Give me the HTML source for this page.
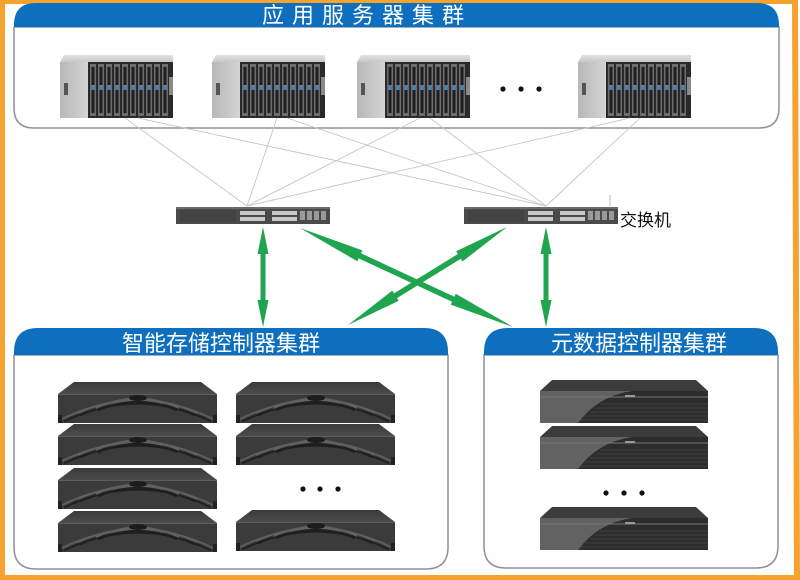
<!DOCTYPE html>
<html>
<head>
<meta charset="utf-8">
<style>
  html,body{margin:0;padding:0;background:#fff;}
  svg{display:block;}
  .t{font-family:"Liberation Sans","Noto Sans CJK SC",sans-serif;}
</style>
</head>
<body>
<svg width="800" height="580" viewBox="0 0 800 580" xmlns="http://www.w3.org/2000/svg">
  <defs>
    <linearGradient id="topg" x1="0" y1="0" x2="0" y2="1">
      <stop offset="0" stop-color="#e2e2e2"/>
      <stop offset="1" stop-color="#c8c8c8"/>
    </linearGradient>
    <linearGradient id="sideg" x1="0" y1="0" x2="1" y2="0">
      <stop offset="0" stop-color="#b8b8b8"/>
      <stop offset="1" stop-color="#d4d4d4"/>
    </linearGradient>
    <linearGradient id="stTop" x1="0" y1="0" x2="0" y2="1">
      <stop offset="0" stop-color="#3a3a3a"/>
      <stop offset="1" stop-color="#4c4c4c"/>
    </linearGradient>
    <g id="srv">
      <polygon points="4,0 113,0 113,7 0,7" fill="url(#topg)"/>
      <rect x="0" y="7" width="28" height="56" fill="url(#sideg)"/>
      <rect x="4" y="28" width="4" height="12" fill="#555"/>
      <rect x="28" y="7" width="85" height="56" fill="#2a2a2a"/>
      <g fill="#6d6d6d">
        <rect x="30" y="9" width="6" height="52"/><rect x="38" y="9" width="6" height="52"/>
        <rect x="46" y="9" width="6" height="52"/><rect x="54" y="9" width="6" height="52"/>
        <rect x="62" y="9" width="6" height="52"/><rect x="70" y="9" width="6" height="52"/>
        <rect x="78" y="9" width="6" height="52"/><rect x="86" y="9" width="6" height="52"/>
        <rect x="94" y="9" width="6" height="52"/><rect x="102" y="9" width="6" height="52"/>
      </g>
      <g fill="#1e1e1e">
        <rect x="31.5" y="12" width="3" height="46"/><rect x="39.5" y="12" width="3" height="46"/>
        <rect x="47.5" y="12" width="3" height="46"/><rect x="55.5" y="12" width="3" height="46"/>
        <rect x="63.5" y="12" width="3" height="46"/><rect x="71.5" y="12" width="3" height="46"/>
        <rect x="79.5" y="12" width="3" height="46"/><rect x="87.5" y="12" width="3" height="46"/>
        <rect x="95.5" y="12" width="3" height="46"/><rect x="103.5" y="12" width="3" height="46"/>
      </g>
      <g fill="#4d7fc0">
        <rect x="31.5" y="30" width="3" height="5"/><rect x="39.5" y="30" width="3" height="5"/>
        <rect x="47.5" y="30" width="3" height="5"/><rect x="55.5" y="30" width="3" height="5"/>
        <rect x="63.5" y="30" width="3" height="5"/><rect x="71.5" y="30" width="3" height="5"/>
        <rect x="79.5" y="30" width="3" height="5"/><rect x="87.5" y="30" width="3" height="5"/>
        <rect x="95.5" y="30" width="3" height="5"/><rect x="103.5" y="30" width="3" height="5"/>
      </g>
      <rect x="109" y="22" width="4" height="18" fill="#8a8a8a"/>
    </g>
    <g id="stor">
      <polygon points="16,0 143,0 159,12 0,12" fill="url(#stTop)"/>
      <rect x="0" y="12" width="159" height="29" fill="#3b3b3b"/>
      <line x1="0" y1="12.5" x2="159" y2="12.5" stroke="#5c5c5c" stroke-width="1"/>
      <g fill="none" stroke-width="1.8">
        <path d="M4,37 Q80,0 155,37" stroke="#606060"/>
        <path d="M6,39.5 Q80,4 153,39.5" stroke="#1f1f1f"/>
        <path d="M20,31 Q80,4 139,31" stroke="#606060"/>
        <path d="M22,33.5 Q80,8 137,33.5" stroke="#1f1f1f"/>
        <path d="M38,26 Q80,7 121,26" stroke="#606060"/>
        <path d="M40,28.5 Q80,11 119,28.5" stroke="#1f1f1f"/>
        <path d="M55,21 Q80,11 104,21" stroke="#606060"/>
      </g>
      <ellipse cx="80" cy="16" rx="9" ry="3" fill="#1c1c1c"/>
      <rect x="0" y="33" width="4" height="8" fill="#222"/>
      <rect x="155" y="33" width="4" height="8" fill="#222"/>
    </g>
    <g id="meta">
      <polygon points="12,0 156,0 168,11 0,11" fill="#3c3c3c"/>
      <rect x="0" y="11" width="168" height="32" fill="#2d2d2d"/>
      <g stroke="#404040" stroke-width="1">
        <line x1="60" y1="24" x2="168" y2="24"/><line x1="55" y1="28" x2="168" y2="28"/>
        <line x1="50" y1="32" x2="168" y2="32"/><line x1="45" y1="36" x2="168" y2="36"/>
        <line x1="40" y1="40" x2="168" y2="40"/>
      </g>
      <path d="M0,11 L92,11 Q58,16 38,43 L0,43 Z" fill="#626262"/>
      <line x1="0" y1="17" x2="168" y2="17" stroke="#777" stroke-width="1"/>
      <rect x="85" y="15" width="10" height="2" fill="#999"/>
    </g>
    <g id="sw">
      <rect x="0" y="0" width="154" height="17" fill="#4a4a4a"/>
      <rect x="0" y="0" width="154" height="2" fill="#6a6a6a"/>
      <rect x="4" y="3" width="56" height="12" fill="#444"/>
      <g fill="#c8c8c8">
        <rect x="64" y="4" width="25" height="4"/><rect x="64" y="10" width="25" height="4"/>
        <rect x="96" y="4" width="25" height="4"/><rect x="96" y="10" width="25" height="4"/>
      </g>
      <g fill="#9a9a9a">
        <rect x="124" y="4" width="5" height="9"/><rect x="131" y="4" width="5" height="9"/>
        <rect x="138" y="4" width="5" height="9"/><rect x="145" y="4" width="5" height="9"/>
      </g>
    </g>
  </defs>

  <rect x="0" y="0" width="800" height="580" fill="#fff"/>

  <!-- orange frame -->
  <rect x="0" y="0" width="5" height="580" fill="#f6a22f"/>
  <rect x="0" y="0" width="798" height="4" fill="#f6a22f"/>
  <rect x="0" y="575" width="800" height="5" fill="#f6a22f"/>
  <polygon points="792,0 798,0 800,580 794,580" fill="#f6a22f"/>

  <!-- top panel -->
  <path d="M14,27 L14,108 Q14,128 34,128 L759,128 Q779,128 779,108 L779,27 Z" fill="#fff" stroke="#8d8fa0" stroke-width="1.5"/>
  <path d="M14,27 L14,25 Q14,3 36,3 L757,3 Q779,3 779,25 L779,27 Z" fill="#0d6fbd"/>
  <text class="t" x="262" y="23" font-size="22" fill="#fff" letter-spacing="8">应用服务器集群</text>

  <use href="#srv" x="60" y="55"/>
  <use href="#srv" x="212" y="55"/>
  <use href="#srv" x="357" y="55"/>
  <use href="#srv" x="578" y="55"/>
  <circle cx="503" cy="89" r="2.6" fill="#111"/>
  <circle cx="521" cy="89" r="2.6" fill="#111"/>
  <circle cx="539" cy="89" r="2.6" fill="#111"/>

  <!-- connection lines -->
  <g stroke="#c3c6ce" stroke-width="0.9" fill="none">
    <line x1="125" y1="118" x2="247" y2="206"/>
    <line x1="138" y1="118" x2="546" y2="206"/>
    <line x1="277" y1="118" x2="247" y2="206"/>
    <line x1="287" y1="118" x2="546" y2="206"/>
    <line x1="420" y1="118" x2="247" y2="206"/>
    <line x1="430" y1="118" x2="546" y2="206"/>
    <line x1="630" y1="118" x2="247" y2="206"/>
    <line x1="640" y1="118" x2="546" y2="206"/>
  </g>

  <!-- switches -->
  <use href="#sw" x="176" y="207"/>
  <use href="#sw" x="464" y="207"/>
  <line x1="610" y1="195" x2="610" y2="206" stroke="#bbb" stroke-width="1"/>
  <text class="t" x="620" y="226" font-size="17" fill="#111">交换机</text>

  <!-- green arrows -->
  <g fill="#1fa54f">
    <polygon transform="translate(263,227) rotate(90)" points="0,0 27,-5.5 27,-2.5 73,-2.5 73,-5.5 100,0 73,5.5 73,2.5 27,2.5 27,5.5"/>
    <polygon transform="translate(546,227) rotate(90)" points="0,0 27,-5.5 27,-2.5 73,-2.5 73,-5.5 100,0 73,5.5 73,2.5 27,2.5 27,5.5"/>
    <polygon transform="translate(300,228) rotate(24.93)" points="0,0 66,-6 66,-2.8 169,-2.8 169,-6 235,0 169,6 169,2.8 66,2.8 66,6"/>
    <polygon transform="translate(507,227) rotate(148.35)" points="0,0 56,-6 56,-2.8 131,-2.8 131,-6 187,0 131,6 131,2.8 56,2.8 56,6"/>
  </g>

  <!-- left bottom panel -->
  <path d="M14,355 L14,547 Q14,569 36,569 L426,569 Q448,569 448,547 L448,355 Z" fill="#fff" stroke="#8d8fa0" stroke-width="1.5"/>
  <path d="M14,355 L14,352 Q14,328 38,328 L424,328 Q448,328 448,352 L448,355 Z" fill="#0d6fbd"/>
  <text class="t" x="122" y="351" font-size="22" fill="#fff">智能存储控制器集群</text>

  <use href="#stor" x="58" y="382"/>
  <use href="#stor" x="58" y="424"/>
  <use href="#stor" x="58" y="468"/>
  <use href="#stor" x="58" y="511"/>
  <use href="#stor" x="236" y="382"/>
  <use href="#stor" x="236" y="424"/>
  <use href="#stor" x="236" y="510"/>
  <circle cx="303" cy="489" r="2.6" fill="#111"/>
  <circle cx="320" cy="489" r="2.6" fill="#111"/>
  <circle cx="338" cy="489" r="2.6" fill="#111"/>

  <!-- right bottom panel -->
  <path d="M484,355 L484,546 Q484,568 506,568 L756,568 Q778,568 778,546 L778,355 Z" fill="#fff" stroke="#8d8fa0" stroke-width="1.5"/>
  <path d="M484,355 L484,352 Q484,328 508,328 L754,328 Q778,328 778,352 L778,355 Z" fill="#0d6fbd"/>
  <text class="t" x="551" y="351" font-size="22" fill="#fff">元数据控制器集群</text>

  <use href="#meta" x="540" y="380"/>
  <use href="#meta" x="540" y="426"/>
  <use href="#meta" x="540" y="507"/>
  <circle cx="606" cy="493" r="2.6" fill="#111"/>
  <circle cx="624" cy="493" r="2.6" fill="#111"/>
  <circle cx="642" cy="493" r="2.6" fill="#111"/>
</svg>
</body>
</html>
